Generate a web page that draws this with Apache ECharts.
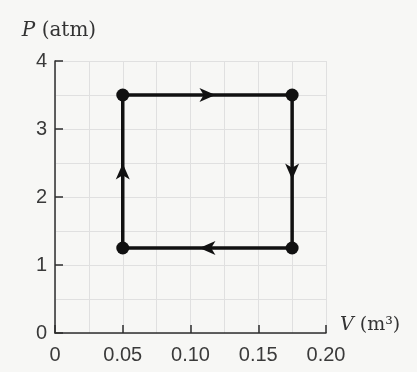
<!DOCTYPE html>
<html>
<head>
<meta charset="utf-8">
<script src="https://cdn.jsdelivr.net/npm/echarts@6/dist/echarts.min.js"></script>
<style>
html,body{margin:0;padding:0;background:#f7f7f5;}
#c{width:417px;height:372px;}
</style>
</head>
<body>
<div id="c"></div>
<script>
// Cycle corners (V in m^3, P in atm), in order of the process
const volumes = [0.05, 0.175, 0.175, 0.05];
const pressures = [3.5, 3.5, 1.25, 1.25];
// Tick labels
const xTickLabels = ['0', '0.05', '0.10', '0.15', '0.20'];
const yTickLabels = ['0', '1', '2', '3', '4'];
// Arrow directions along each leg (degrees, counter-clockwise, 0 = up)
const arrowRotations = [-90, 180, 90, 0];

const corners = volumes.map((v, i) => [v, pressures[i]]);
const path = corners.concat([corners[0]]);
const arrows = corners.map((c, i) => {
  const n = corners[(i + 1) % corners.length];
  return { value: [(c[0] + n[0]) / 2, (c[1] + n[1]) / 2], symbolRotate: arrowRotations[i] };
});

const chart = echarts.init(document.getElementById('c'));
const axisColor = '#2e2e2e';
const gridColor = '#e0e0e0';
chart.setOption({
  backgroundColor: '#f7f7f5',
  animation: false,
  grid: { left: 55, top: 61, right: 91, bottom: 39 },
  xAxis: {
    type: 'value', min: 0, max: 0.2, interval: 0.05,
    name: '{i|V} (m³)', nameLocation: 'end', nameGap: 14,
    nameTextStyle: { fontFamily: 'DejaVu Serif', fontSize: 19, color: '#333', padding: [0, 0, 16, 0],
      rich: { i: { fontFamily: 'DejaVu Serif', fontStyle: 'italic', fontSize: 19, color: '#333' } } },
    axisLine: { show: true, onZero: false, lineStyle: { color: axisColor, width: 1.5 } },
    axisTick: { show: true, inside: true, length: 8, lineStyle: { color: axisColor, width: 1.5 } },
    axisLabel: { margin: 12, fontFamily: 'Liberation Sans', fontSize: 20, color: '#3a3a3a',
      formatter: (v) => xTickLabels[Math.round(v / 0.05)] },
    splitLine: { show: true, lineStyle: { color: gridColor, width: 1 } },
    minorTick: { show: false, splitNumber: 2 },
    minorSplitLine: { show: true, lineStyle: { color: gridColor, width: 1 } }
  },
  yAxis: {
    type: 'value', min: 0, max: 4, interval: 1,
    name: '{i|P} (atm)', nameLocation: 'end', nameGap: 20,
    nameTextStyle: { fontFamily: 'DejaVu Serif', fontSize: 20, color: '#333', padding: [0, 0, 0, 8],
      rich: { i: { fontFamily: 'DejaVu Serif', fontStyle: 'italic', fontSize: 20, color: '#333' } } },
    axisLine: { show: true, onZero: false, lineStyle: { color: axisColor, width: 1.5 } },
    axisTick: { show: true, inside: true, length: 8, lineStyle: { color: axisColor, width: 1.5 } },
    axisLabel: { margin: 8, fontFamily: 'Liberation Sans', fontSize: 20, color: '#3a3a3a',
      formatter: (v) => yTickLabels[Math.round(v)] },
    splitLine: { show: true, lineStyle: { color: gridColor, width: 1 } },
    minorTick: { show: false, splitNumber: 2 },
    minorSplitLine: { show: true, lineStyle: { color: gridColor, width: 1 } }
  },
  series: [
    {
      type: 'line', data: path, showSymbol: false, symbol: 'none',
      lineStyle: { color: '#111', width: 3.5 }, z: 3
    },
    {
      type: 'scatter', data: corners, symbol: 'circle', symbolSize: 13,
      itemStyle: { color: '#111', opacity: 1 }, z: 4
    },
    {
      type: 'scatter', data: arrows,
      symbol: 'path://M0,-10 L6,5 L0,1 L-6,5 Z', symbolSize: [14, 16], symbolKeepAspect: false,
      itemStyle: { color: '#111', opacity: 1 }, z: 5
    }
  ]
});
</script>
</body>
</html>
